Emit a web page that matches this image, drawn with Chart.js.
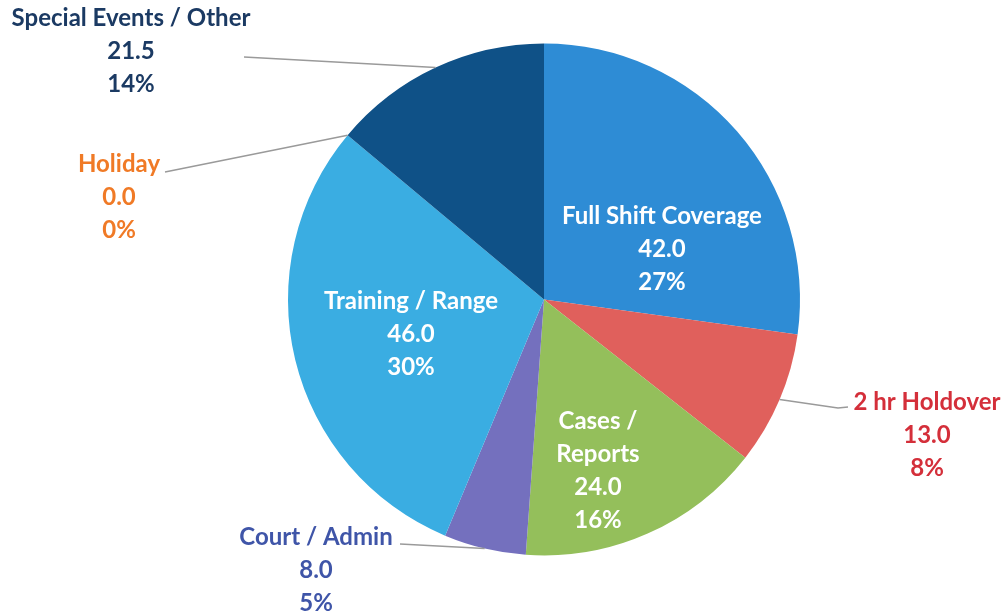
<!DOCTYPE html>
<html><head><meta charset="utf-8">
<script src="https://cdn.jsdelivr.net/npm/chart.js@4.4.1/dist/chart.umd.min.js"></script>
<style>html,body{margin:0;padding:0;background:#fff;}#wrap{width:1007px;height:613px;}</style>
</head><body><div id="wrap"><canvas id="c" width="1007" height="613"></canvas></div>
<script>
const categories = ["Full Shift Coverage","2 hr Holdover","Cases / Reports","Court / Admin","Training / Range","Holiday","Special Events / Other"];
const values = [42.0, 13.0, 24.0, 8.0, 46.0, 0.0, 21.5];
const percentLabels = ["27%","8%","16%","5%","30%","0%","14%"];

const sliceColors = ["#2E8CD5","#E0605C","#94BF5B","#7470BE","#3AADE2","#F08A30","#0F5187"];
const FONT = 'bold 24px Lato, "Open Sans", sans-serif';
// label layout: inside (white) or outside (colored, with leader line)
const labelCfg = [
  {mode:"in", lines:["Full Shift Coverage"], cx:662, y:216},
  {mode:"out", lines:["2 hr Holdover"], cx:927, y:402, color:"#D42F3A", lineTo:[[838,408],[848,407]]},
  {mode:"in", lines:["Cases /","Reports"], cx:598, y:421},
  {mode:"out", lines:["Court / Admin"], cx:316, y:537, color:"#3F55A8", lineTo:[[400,544]]},
  {mode:"in", lines:["Training / Range"], cx:411, y:301},
  {mode:"out", lines:["Holiday"], cx:119, y:164, color:"#F07A26", lineTo:[[165,172]]},
  {mode:"out", lines:["Special Events / Other"], cx:131, y:18, color:"#1B3A63", lineTo:[[244,57]]}
];

const labelPlugin = {
  id:"labels",
  afterDatasetsDraw(chart){
    const ctx = chart.ctx;
    const meta = chart.getDatasetMeta(0);
    ctx.save();
    ctx.font = FONT;
    ctx.textAlign = "center";
    ctx.textBaseline = "middle";
    meta.data.forEach((arc, i) => {
      const cfg = labelCfg[i];
      const p = arc.getProps(["x","y","startAngle","endAngle","outerRadius"], true);
      if (cfg.mode === "out") {
        const mid = (p.startAngle + p.endAngle) / 2;
        const ax = p.x + Math.cos(mid) * p.outerRadius;
        const ay = p.y + Math.sin(mid) * p.outerRadius;
        ctx.strokeStyle = "#9a9a9a";
        ctx.lineWidth = 1.5;
        ctx.beginPath();
        ctx.moveTo(ax, ay);
        cfg.lineTo.forEach(pt => ctx.lineTo(pt[0], pt[1]));
        ctx.stroke();
      }
      ctx.fillStyle = cfg.mode === "in" ? "#ffffff" : cfg.color;
      const texts = cfg.lines.concat([values[i].toFixed(1), percentLabels[i]]);
      texts.forEach((t, k) => ctx.fillText(t, cfg.cx, cfg.y + k * 33));
    });
    ctx.restore();
  }
};

new Chart(document.getElementById("c"), {
  type: "pie",
  data: {
    labels: categories,
    datasets: [{ data: values, backgroundColor: sliceColors, borderWidth: 0 }]
  },
  options: {
    responsive: false,
    animation: false,
    layout: { padding: { left: 288, right: 207, top: 43, bottom: 57 } },
    plugins: { legend: { display: false }, tooltip: { enabled: false } }
  },
  plugins: [labelPlugin]
});
</script></body></html>
